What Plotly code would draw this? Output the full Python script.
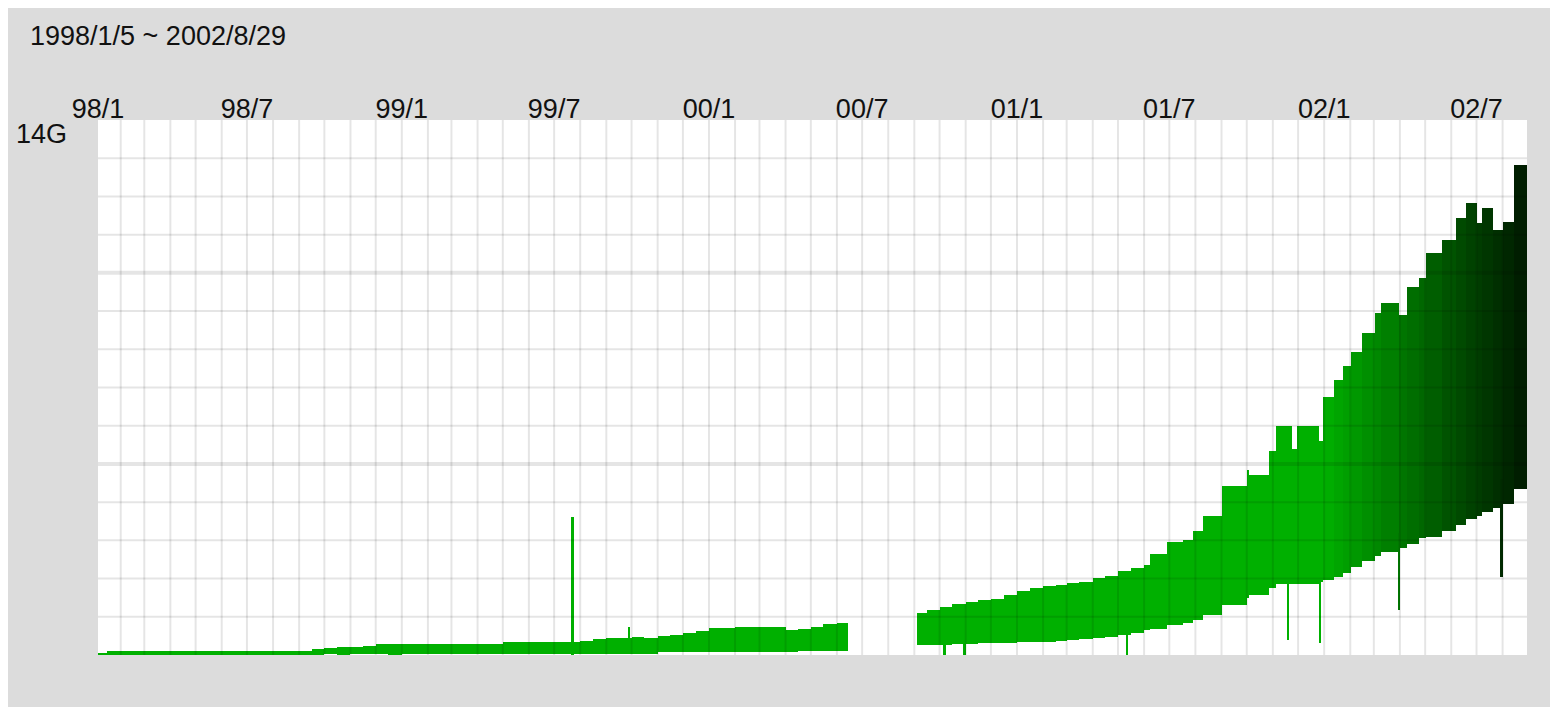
import plotly.graph_objects as go
import pandas as pd

# ---------------- data (values in G) ----------------
# start date of each period (a period runs to the next start; None = no data)
period_start = [
    "1998-01-05", "1998-01-16", "1998-02-01", "1998-02-16", "1998-03-01", "1998-03-16",
    "1998-04-01", "1998-04-16", "1998-05-01", "1998-05-16", "1998-06-01", "1998-06-16",
    "1998-07-01", "1998-07-16", "1998-08-01", "1998-08-16", "1998-09-01", "1998-09-16",
    "1998-10-01", "1998-10-16", "1998-11-01", "1998-11-16", "1998-12-01", "1998-12-16",
    "1999-01-01", "1999-01-16", "1999-02-01", "1999-02-16", "1999-03-01", "1999-03-16",
    "1999-04-01", "1999-04-16", "1999-05-01", "1999-05-16", "1999-06-01", "1999-06-16",
    "1999-07-01", "1999-07-16", "1999-08-01", "1999-08-16", "1999-09-01", "1999-09-16",
    "1999-10-01", "1999-10-16", "1999-11-01", "1999-11-16", "1999-12-01", "1999-12-16",
    "2000-01-01", "2000-01-16", "2000-02-01", "2000-02-16", "2000-03-01", "2000-03-16",
    "2000-04-01", "2000-04-16", "2000-05-01", "2000-05-16", "2000-06-01", "2000-06-14",
    "2000-09-04", "2000-09-16", "2000-10-01", "2000-10-16", "2000-11-01", "2000-11-16",
    "2000-12-01", "2000-12-16", "2001-01-01", "2001-01-16", "2001-02-01", "2001-02-16",
    "2001-03-01", "2001-03-16", "2001-04-01", "2001-04-16", "2001-05-01", "2001-05-16",
    "2001-06-01", "2001-06-08", "2001-06-28", "2001-07-17", "2001-07-29", "2001-08-10",
    "2001-09-01", "2001-10-01", "2001-10-04", "2001-10-28", "2001-11-05", "2001-11-24",
    "2001-11-30", "2001-12-26", "2001-12-30", "2002-01-13", "2002-01-23", "2002-02-02",
    "2002-02-15", "2002-03-02", "2002-03-10", "2002-03-31", "2002-04-09", "2002-04-24",
    "2002-05-02", "2002-05-21", "2002-06-07", "2002-06-19", "2002-07-01", "2002-07-08",
    "2002-07-20", "2002-08-01", "2002-08-15",
]
period_end_last = "2002-08-30"

band_low = [
    0.00, 0.00, 0.00, 0.00, 0.00, 0.00,
    0.00, 0.00, 0.00, 0.00, 0.00, 0.00,
    0.00, 0.00, 0.00, 0.00, 0.00, 0.00,
    0.02, 0.00, 0.02, 0.02, 0.02, 0.01,
    0.02, 0.02, 0.02, 0.02, 0.02, 0.02,
    0.02, 0.02, 0.03, 0.03, 0.03, 0.03,
    0.03, 0.03, 0.03, 0.03, 0.03, 0.03,
    0.03, 0.03, 0.09, 0.09, 0.09, 0.09,
    0.09, 0.09, 0.09, 0.09, 0.09, 0.09,
    0.09, 0.10, 0.10, 0.10, 0.10, None,
    0.26, 0.26, 0.26, 0.28, 0.30, 0.31,
    0.31, 0.31, 0.33, 0.34, 0.35, 0.36,
    0.38, 0.41, 0.45, 0.48, 0.53, 0.58,
    0.65, 0.68, 0.78, 0.85, 0.92, 1.05,
    1.30, 1.50, 1.58, 1.75, 1.85, 1.85,
    1.85, 1.92, 1.95, 2.05, 2.15, 2.30,
    2.45, 2.60, 2.70, 2.80, 2.90, 3.05,
    3.10, 3.25, 3.40, 3.55, 3.65, 3.75,
    3.85, 3.95, 4.35,
]
band_high = [
    0.05, 0.10, 0.10, 0.10, 0.10, 0.10,
    0.10, 0.10, 0.10, 0.10, 0.10, 0.10,
    0.10, 0.10, 0.10, 0.10, 0.10, 0.15,
    0.18, 0.22, 0.22, 0.24, 0.30, 0.30,
    0.28, 0.28, 0.28, 0.28, 0.28, 0.28,
    0.28, 0.29, 0.33, 0.35, 0.35, 0.34,
    0.35, 0.35, 0.37, 0.43, 0.44, 0.44,
    0.46, 0.44, 0.50, 0.53, 0.58, 0.62,
    0.70, 0.71, 0.72, 0.72, 0.72, 0.73,
    0.66, 0.67, 0.72, 0.80, 0.83, None,
    1.09, 1.17, 1.26, 1.33, 1.40, 1.44,
    1.46, 1.57, 1.68, 1.76, 1.80, 1.83,
    1.88, 1.92, 2.02, 2.06, 2.20, 2.28,
    2.35, 2.65, 2.95, 3.00, 3.25, 3.65,
    4.42, 4.84, 4.72, 5.35, 5.98, 5.40,
    5.99, 5.60, 6.76, 7.20, 7.55, 7.94,
    8.42, 8.94, 9.20, 8.90, 9.64, 9.86,
    10.52, 10.86, 11.43, 11.82, 11.30, 11.70,
    11.13, 11.34, 12.83,
]

# single-day outliers
spike_date = ["1999-07-23", "1999-09-28", "2000-10-07", "2000-10-31", "2001-05-12",
              "2001-11-19", "2001-12-27", "2002-03-31", "2002-07-31"]
spike_low = [0.00, 0.03, 0.00, 0.00, 0.00, 0.39, 0.31, 1.18, 2.05]
spike_high = [3.62, 0.73, 0.50, 0.50, 0.70, 2.20, 2.20, 3.20, 4.60]

tick_dates = ["1998-01-05", "1998-07-01", "1999-01-01", "1999-07-01", "2000-01-01",
              "2000-07-01", "2001-01-01", "2001-07-01", "2002-01-01", "2002-07-01"]
tick_text = ["98/1", "98/7", "99/1", "99/7", "00/1", "00/7", "01/1", "01/7", "02/1", "02/7"]
title_text = "1998/1/5 ~ 2002/8/29"
y_top_label = "14G"
y_max = 14

# ---------------- styling helpers ----------------
FONT = "Liberation Sans, Arial, sans-serif"
FSIZE = 27
dark_start = pd.Timestamp("2002-01-01")
dark_end = pd.Timestamp(period_end_last)

PLOT_W = 1429
PLOT_H = 535


def band_colour(ts):
    if ts < dark_start:
        g = 176
    else:
        frac = (ts - dark_start) / (dark_end - dark_start)
        g = round(176 - 151 * min(max(frac, 0), 1))
    return f"rgb(0,{g},0)"


starts = pd.to_datetime(period_start)
ends = list(starts[1:]) + [pd.Timestamp(period_end_last)]

bx, by, bbase, bw, bc = [], [], [], [], []
for s, e, lo, hi in zip(starts, ends, band_low, band_high):
    if lo is None or hi is None:
        continue
    bx.append(s)
    bbase.append(lo)
    by.append(hi - lo)
    bw.append((e - s).total_seconds() * 1000)
    bc.append(band_colour(s + (e - s) / 2))

fig = go.Figure()
fig.add_trace(go.Bar(
    x=bx, y=by, base=bbase, width=bw, offset=0,
    marker=dict(color=bc, line=dict(width=0)),
    hoverinfo="skip", showlegend=False,
))

sd = pd.to_datetime(spike_date)
fig.add_trace(go.Bar(
    x=sd, y=[h - l for l, h in zip(spike_low, spike_high)], base=spike_low,
    width=[2.2 * 86400000] * len(sd), offset=-1.1 * 86400000,
    marker=dict(color=[band_colour(d) for d in sd], line=dict(width=0)),
    hoverinfo="skip", showlegend=False,
))

# grid drawn above the bars (semi-transparent, as in the original)
grid_col = "rgba(0,0,0,0.10)"
shapes = []
for m in pd.date_range("1998-02-01", "2002-08-01", freq="MS"):
    shapes.append(dict(type="line", xref="x", yref="paper", x0=m, x1=m, y0=0, y1=1,
                       line=dict(color=grid_col, width=2), layer="above"))
for v in range(1, y_max):
    shapes.append(dict(type="line", xref="paper", yref="y", x0=0, x1=1, y0=v, y1=v,
                       line=dict(color=grid_col, width=4 if v % 5 == 0 else 2),
                       layer="above"))

fig.update_layout(
    width=1558, height=707,
    margin=dict(l=90, r=39, t=112, b=60, pad=0),
    paper_bgcolor="#dcdcdc", plot_bgcolor="white",
    bargap=0, barmode="overlay",
    shapes=shapes,
    font=dict(family=FONT, size=FSIZE, color="#111111"),
    xaxis=dict(
        type="date", range=["1998-01-05", period_end_last], side="top",
        tickvals=pd.to_datetime(tick_dates), ticktext=tick_text,
        ticks="", showgrid=False, zeroline=False, showline=False,
        ticklabelstandoff=-4,
        tickfont=dict(family=FONT, size=FSIZE, color="#111111"),
    ),
    yaxis=dict(range=[0, y_max], showgrid=False, zeroline=False, showline=False,
               showticklabels=False, ticks=""),
    annotations=[
        dict(text=title_text, xref="paper", yref="paper", x=(28 - 98) / PLOT_W,
             y=1 + (120 - 36) / PLOT_H, xanchor="left", yanchor="middle", showarrow=False,
             font=dict(family=FONT, size=FSIZE, color="#111111")),
        dict(text=y_top_label, xref="paper", yref="paper", x=(14 - 98) / PLOT_W,
             y=1 - (134 - 120) / PLOT_H, xanchor="left", yanchor="middle", showarrow=False,
             font=dict(family=FONT, size=FSIZE, color="#111111")),
    ],
)

fig.write_html("out.html")
